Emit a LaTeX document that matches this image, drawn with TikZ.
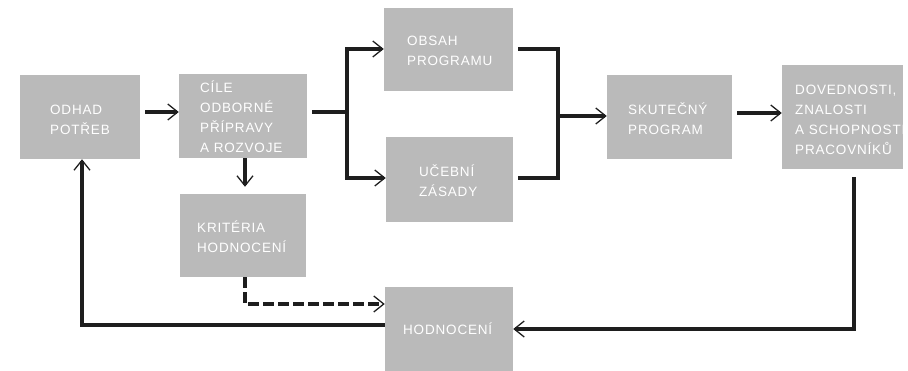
\documentclass[tikz,border=0pt]{standalone}
\usepackage{fontspec}
\newfontfamily\boxfont[LetterSpace=6]{Liberation Sans}
\usetikzlibrary{arrows.meta}
\definecolor{boxgray}{RGB}{186,186,186}
\definecolor{ink}{RGB}{30,30,30}
\tikzset{
  stage/.style={fill=boxgray, draw=none, inner sep=0pt},
  caption/.style={anchor=west, inner sep=0pt, align=left, text=white,
    font=\boxfont\fontsize{13.5}{20}\selectfont},
  wire/.style={draw=ink, line width=3.3pt, line join=miter},
  arr/.style={wire, -{Straight Barb[length=10pt,width=16pt,line width=1.3pt]}},
  dashwire/.style={arr, dash pattern=on 11pt off 4pt},
}
\begin{document}
\begin{tikzpicture}[x=1pt, y=-1pt]
\useasboundingbox (0,0) rectangle (908,370);

% stages
\node[stage, minimum width=120pt, minimum height=84pt]  (odhad)  at (80,117) {};
\node[stage, minimum width=128pt, minimum height=84pt]  (cile)   at (243,116) {};
\node[stage, minimum width=129pt, minimum height=83pt]  (obsah)  at (448.5,49.5) {};
\node[stage, minimum width=127pt, minimum height=85pt]  (ucebni) at (449.5,179.5) {};
\node[stage, minimum width=125pt, minimum height=84pt]  (skut)   at (669.5,117) {};
\node[stage, minimum width=121pt, minimum height=104pt] (dov)    at (842.5,117) {};
\node[stage, minimum width=126pt, minimum height=83pt]  (krit)   at (243,235.5) {};
\node[stage, minimum width=128pt, minimum height=84pt]  (hodn)   at (449,329) {};

% stage captions
\node[caption] (odhad-t)  at (50,120)  {ODHAD\\POTŘEB};
\node[caption] (cile-t)   at (200,117) {CÍLE\\ODBORNÉ\\PŘÍPRAVY\\A ROZVOJE};
\node[caption] (obsah-t)  at (407,51)  {OBSAH\\PROGRAMU};
\node[caption] (ucebni-t) at (419,181) {UČEBNÍ\\ZÁSADY};
\node[caption] (skut-t)   at (628,119) {SKUTEČNÝ\\PROGRAM};
\node[caption] (dov-t)    at (795,120) {DOVEDNOSTI,\\ZNALOSTI\\A SCHOPNOSTI\\PRACOVNÍKŮ};
\node[caption] (krit-t)   at (197,237) {KRITÉRIA\\HODNOCENÍ};
\node[caption] (hodn-t)   at (403,329) {HODNOCENÍ};

% junctions
\coordinate (split) at (347,112);
\coordinate (up)    at (347,49);
\coordinate (down)  at (347,178);
\coordinate (merge) at (558,116);
\coordinate (mtop)  at (558,49);
\coordinate (mbot)  at (558,178);
\coordinate (ret)   at (854,329);
\coordinate (back)  at (82,325);
\coordinate (crit)  at (245,304);
\coordinate (out)   at (737,113);

% forward flow
\draw[arr, shorten <=5pt] (odhad.east |- split) -- (cile.west |- split);
\draw[wire, shorten <=5pt] (cile.east |- split) -- (split);
\draw[arr] (split) |- (obsah.west |- up);
\draw[arr] (split) |- (ucebni.west |- down);
\draw[wire, shorten <=5pt] (obsah.east |- mtop) -| (merge);
\draw[wire, shorten <=5pt] (ucebni.east |- mbot) -| (merge);
\draw[arr] (merge) -- (skut.west |- merge);
\draw[arr, shorten <=5pt] (skut.east |- out) -- (dov.west |- out);

% criteria
\draw[arr, shorten >=7pt] (cile.south -| crit) -- (krit.north -| crit);
\draw[dashwire] (krit.south -| crit) |- (hodn.west |- crit);

% feedback loop
\draw[arr, shorten <=8pt] (ret |- dov.south) |- (hodn.east |- ret);
\draw[arr] (hodn.west |- back) -| (odhad.south -| back);
\end{tikzpicture}
\end{document}
